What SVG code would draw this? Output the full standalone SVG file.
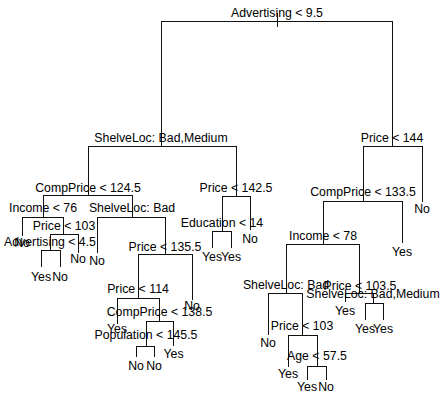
<svg xmlns="http://www.w3.org/2000/svg" width="445" height="400" viewBox="0 0 445 400">
<style>
.e{stroke:#111;stroke-width:1;fill:none;shape-rendering:crispEdges}
text{font-family:"Liberation Sans",Arial,sans-serif;font-size:12.3px;fill:#000;text-anchor:middle}
</style>
<rect width="445" height="400" fill="#fff"/>
<g id="connectors" class="e">
<path d="M277,13V27M161,21H392"/>
<path d="M161,21V146M88,146H236"/>
<path d="M392,21V146M363,146H422"/>
<path d="M422,146V202"/>
<path d="M88,146V195M43,195H132"/>
<path d="M236,146V196M222,196H250"/>
<path d="M250,196V230"/>
<path d="M222,196V231M212,231H231"/>
<path d="M212,231V248M231,231V248"/>
<path d="M43,195V217M22,217H63"/>
<path d="M22,217V236"/>
<path d="M63,217V234M50,234H78"/>
<path d="M50,234V250M41,250H60"/>
<path d="M41,250V267M60,250V267"/>
<path d="M78,234V253"/>
<path d="M132,195V217M97,217H165"/>
<path d="M97,217V253"/>
<path d="M165,217V254M138,254H192"/>
<path d="M192,254V300"/>
<path d="M138,254V298M117,298H159.5"/>
<path d="M117,298V324"/>
<path d="M159.5,298V321M146,321H173.5"/>
<path d="M173.5,321V346"/>
<path d="M146,321V346M136,346H154"/>
<path d="M136,346V357M154,346V357"/>
<path d="M363,146V201M323,201H402"/>
<path d="M402,201V243"/>
<path d="M323,201V244M286,244H359"/>
<path d="M286,244V293M268,293H302"/>
<path d="M268,293V335"/>
<path d="M302,293V335M288,335H317"/>
<path d="M288,335V367"/>
<path d="M317,335V366M307,366H326"/>
<path d="M307,366V380M326,366V380"/>
<path d="M359,244V293M345,293H373"/>
<path d="M345,293V302"/>
<path d="M373,293V303M365,303H383"/>
<path d="M365,303V320M383,303V320"/>
</g>
<g id="n_root"><text x="277" y="17">Advertising &lt; 9.5</text></g>
<g id="n_shelve1"><text x="161" y="142">ShelveLoc: Bad,Medium</text></g>
<g id="n_price144"><text x="392" y="142">Price &lt; 144</text></g>
<g id="n_leaf_no_422"><text x="422" y="213">No</text></g>
<g id="n_comp124"><text x="88" y="191.5">CompPrice &lt; 124.5</text></g>
<g id="n_price142"><text x="236" y="192">Price &lt; 142.5</text></g>
<g id="n_leaf_no_250"><text x="250" y="243">No</text></g>
<g id="n_edu14"><text x="222" y="227">Education &lt; 14</text></g>
<g id="n_leaf_yes_212"><text x="212" y="261">Yes</text></g>
<g id="n_leaf_yes_231"><text x="231" y="261">Yes</text></g>
<g id="n_income76"><text x="43" y="212">Income &lt; 76</text></g>
<g id="n_leaf_no_22"><text x="22" y="247">No</text></g>
<g id="n_price103a"><text x="64" y="230">Price &lt; 103</text></g>
<g id="n_adv45"><text x="50" y="246">Advertising &lt; 4.5</text></g>
<g id="n_leaf_yes_41"><text x="41" y="281">Yes</text></g>
<g id="n_leaf_no_60"><text x="60" y="281">No</text></g>
<g id="n_leaf_no_78"><text x="78" y="263">No</text></g>
<g id="n_shelve2"><text x="132" y="212">ShelveLoc: Bad</text></g>
<g id="n_leaf_no_97"><text x="97" y="265">No</text></g>
<g id="n_price135"><text x="165" y="251">Price &lt; 135.5</text></g>
<g id="n_leaf_no_192"><text x="192" y="310">No</text></g>
<g id="n_price114"><text x="138" y="293">Price &lt; 114</text></g>
<g id="n_leaf_yes_117"><text x="117" y="333">Yes</text></g>
<g id="n_comp138"><text x="159.5" y="316">CompPrice &lt; 138.5</text></g>
<g id="n_leaf_yes_173"><text x="173.5" y="358">Yes</text></g>
<g id="n_pop145"><text x="146" y="339">Population &lt; 145.5</text></g>
<g id="n_leaf_no_136"><text x="136" y="370">No</text></g>
<g id="n_leaf_no_154"><text x="154" y="370">No</text></g>
<g id="n_comp133"><text x="363" y="196">CompPrice &lt; 133.5</text></g>
<g id="n_leaf_yes_402"><text x="402" y="256">Yes</text></g>
<g id="n_income78"><text x="323" y="240">Income &lt; 78</text></g>
<g id="n_shelve3"><text x="286" y="289">ShelveLoc: Bad</text></g>
<g id="n_leaf_no_268"><text x="268" y="347">No</text></g>
<g id="n_price103b"><text x="302" y="330">Price &lt; 103</text></g>
<g id="n_leaf_yes_288"><text x="288" y="378">Yes</text></g>
<g id="n_age57"><text x="317" y="360">Age &lt; 57.5</text></g>
<g id="n_leaf_yes_307"><text x="307" y="391">Yes</text></g>
<g id="n_leaf_no_326"><text x="326" y="391">No</text></g>
<g id="n_price1035"><text x="360" y="290">Price &lt; 103.5</text></g>
<g id="n_leaf_yes_345"><text x="345" y="315">Yes</text></g>
<g id="n_shelve4"><text x="373" y="298">ShelveLoc: Bad,Medium</text></g>
<g id="n_leaf_yes_365"><text x="365" y="332.5">Yes</text></g>
<g id="n_leaf_yes_383"><text x="383" y="332.5">Yes</text></g>
</svg>
